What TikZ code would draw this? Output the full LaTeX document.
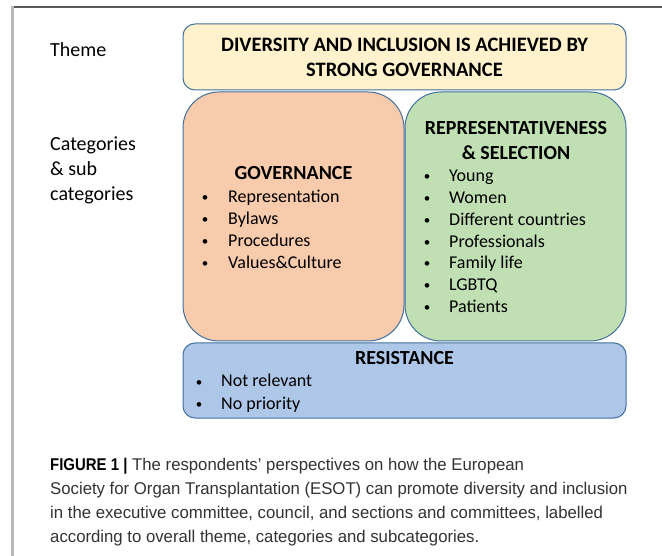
\documentclass[tikz,border=0pt]{standalone}
\usepackage{fontspec}
\setmainfont{Carlito}
\newfontfamily\capfont[FakeStretch=0.985]{Liberation Sans}
\newfontfamily\capboldfont[FakeStretch=0.88]{Liberation Sans Bold}
\definecolor{boxline}{HTML}{41719C}
\definecolor{themefill}{HTML}{FFF2CC}
\definecolor{govfill}{HTML}{F8CBAD}
\definecolor{repfill}{HTML}{C0E0B4}
\definecolor{resfill}{HTML}{AEC6E8}
\definecolor{captext}{HTML}{333333}
\begin{document}
\begin{tikzpicture}[x=1pt,y=-1pt,
  box/.style={draw=boxline, line width=1pt, inner sep=0pt},
  lbl/.style={inner sep=0pt, anchor=base west, font=\fontsize{20}{24}\selectfont},
  head/.style={inner sep=0pt, anchor=base, font=\fontsize{20}{24}\selectfont\bfseries},
  itemtext/.style={inner sep=0pt, anchor=base west, font=\fontsize{18}{22}\selectfont},
  dot/.style={inner sep=0pt, anchor=base, font=\fontsize{13}{22}\selectfont},
  capline/.style={inner sep=0pt, anchor=base west, text=captext, font=\capfont\fontsize{17}{24}\selectfont},
]
\useasboundingbox (0,0) rectangle (662,556);
\fill[white] (0,0) rectangle (662,556);
% page frame
\draw[line width=1.5pt, color=black!65] (12,7) -- (662,7);
\draw[line width=2.5pt, color=black!28] (12.5,6.5) -- (12.5,556);

% row labels
\node[lbl] (themelbl) at (50,56.5) {Theme};
\node[lbl] (catlbl1) at (50,151) {Categories};
\node[lbl] (catlbl2) at (50,176) {\& sub};
\node[lbl] (catlbl3) at (50,200.5) {categories};

% boxes
\node[box, fill=themefill, rounded corners=12pt, minimum width=443pt, minimum height=66pt] (theme) at (404.5,57) {};
\node[box, fill=govfill, rounded corners=36pt, minimum width=221pt, minimum height=249pt] (gov) at (293.5,216.5) {};
\node[box, fill=repfill, rounded corners=36pt, minimum width=221pt, minimum height=249pt] (rep) at (515.5,216.5) {};
\node[box, fill=resfill, rounded corners=12pt, minimum width=443pt, minimum height=75pt] (res) at (404.5,380.5) {};

% theme text
\node[head, font=\fontsize{20.5}{24}\selectfont\bfseries] (theme1) at (404.5,51.5) {DIVERSITY AND INCLUSION IS ACHIEVED BY};
\node[head, font=\fontsize{20.5}{24}\selectfont\bfseries] (theme2) at (404.5,76.5) {STRONG GOVERNANCE};

% governance
\node[head] (govhead) at (293.5,179.5) {GOVERNANCE};
\foreach \t [count=\i] in {Representation, Bylaws, Procedures, Values\&Culture} {
  \node[dot] (govdot\i) at (205,{202+21.7*(\i-1)}) {•};
  \node[itemtext] (govitem\i) at (228,{203+21.7*(\i-1)}) {\t};
}

% representativeness & selection
\node[head] (rephead1) at (516,134.5) {REPRESENTATIVENESS};
\node[head] (rephead2) at (516,159.5) {\& SELECTION};
\foreach \t [count=\i] in {Young, Women, Different countries, Professionals, Family life, LGBTQ, Patients} {
  \node[dot] (repdot\i) at (427,{181+21.7*(\i-1)}) {•};
  \node[itemtext] (repitem\i) at (449,{182+21.7*(\i-1)}) {\t};
}

% resistance
\node[head] (reshead) at (404.5,364.5) {RESISTANCE};
\foreach \t [count=\i] in {Not relevant, No priority} {
  \node[dot] (resdot\i) at (199,{386+22*(\i-1)}) {•};
  \node[itemtext] (resitem\i) at (221,{387+22*(\i-1)}) {\t};
}

% caption
\node[capline] (cap1) at (50,470.5) {\textcolor{black}{\capboldfont FIGURE 1 |} The respondents’ perspectives on how the European};
\node[capline] (cap2) at (50,494.5) {Society for Organ Transplantation (ESOT) can promote diversity and inclusion};
\node[capline] (cap3) at (50,518.5) {in the executive committee, council, and sections and committees, labelled};
\node[capline] (cap4) at (50,542.5) {according to overall theme, categories and subcategories.};
\end{tikzpicture}
\end{document}
